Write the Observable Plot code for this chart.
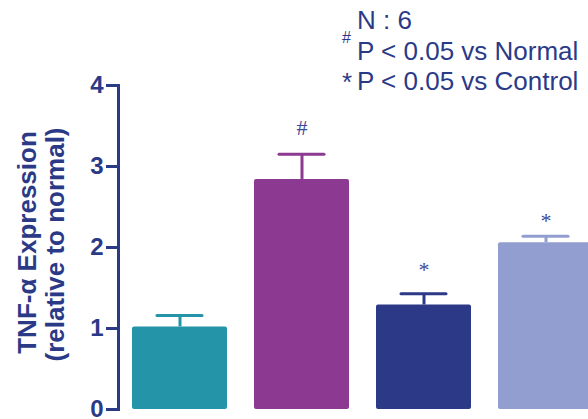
<!DOCTYPE html>
<html>
<head>
<meta charset="utf-8">
<script src="https://cdn.jsdelivr.net/npm/d3@7"></script>
<script src="https://cdn.jsdelivr.net/npm/@observablehq/plot@0.6"></script>
<style>
  html, body { margin: 0; padding: 0; background: #fff; overflow: hidden; }
  #chart { width: 588px; height: 419px; overflow: hidden; }
</style>
</head>
<body>
<div id="chart"></div>
<script>
// ---- data ----
const groups = ["Normal", "Control", "Treatment A", "Treatment B"];
const values = [1.02, 2.84, 1.29, 2.06];
const errors = [0.14, 0.31, 0.14, 0.08];
const colors = ["#2494A9", "#8C3A91", "#2C3986", "#929ECF"];
const markText = ["", "#", "*", "*"];
const markLevel = [null, 3.48, 1.72, 2.33];
const yTicks = [0, 1, 2, 3, 4];
const yTitle = ["TNF-α Expression", "(relative to normal)"];
const legendLines = [
  {sym: "", text: "N : 6"},
  {sym: "#", text: "P < 0.05 vs Normal"},
  {sym: "*", text: "P < 0.05 vs Control"}
];

const navy = "#2B3A87";
const data = groups.map((g, i) => ({group: g, value: values[i], err: errors[i], top: values[i] + errors[i]}));
const marks = groups.map((g, i) => ({group: g, text: markText[i], level: markLevel[i]})).filter(d => d.text);

const plot = Plot.plot({
  width: 588,
  height: 419,
  marginLeft: 118,
  marginTop: 85,
  marginBottom: 10,
  marginRight: 0,
  style: {background: "#fff", overflow: "hidden", color: navy},
  x: {domain: groups, range: [132, 593.7], paddingInner: 0.2228, paddingOuter: 0, axis: null},
  y: {domain: [0, 4], axis: null},
  color: {domain: groups, range: colors},
  marks: [
    Plot.barY(data, {x: "group", y: "value", fill: "group", rx: 2}),
    Plot.ruleX(data, {x: "group", y1: "value", y2: "top", stroke: "group", strokeWidth: 3}),
    Plot.tickY(data, {x: "group", y: "top", stroke: "group", strokeWidth: 3, strokeLinecap: "round", insetLeft: 25, insetRight: 25}),
    Plot.text(marks, {x: "group", y: "level", text: "text", fontFamily: "Liberation Serif", fontSize: 22, fill: "#3D4A9B"}),
    Plot.frame({anchor: "left", stroke: navy, strokeWidth: 3}),
    Plot.axisY({ticks: yTicks, tickFormat: d3.format("d"), tickSize: 12, tickPadding: 3, strokeWidth: 3, fontSize: 24, fontWeight: "bold", fontFamily: "Liberation Sans", color: navy, label: null}),
    Plot.text([yTitle[0]], {text: d => d, frameAnchor: "left", textAnchor: "middle", rotate: -90, dx: -91, dy: -5, fontSize: 26, fontWeight: "bold", fontFamily: "Liberation Sans", fill: navy}),
    Plot.text([yTitle[1]], {text: d => d, frameAnchor: "left", textAnchor: "middle", rotate: -90, dx: -63, dy: -3, fontSize: 26, fontWeight: "bold", fontFamily: "Liberation Sans", fill: navy})
  ]
});

// legend / annotation text block
const svg = d3.select(plot);
const g = svg.append("g").attr("font-family", "Liberation Sans").attr("fill", navy).attr("text-anchor", "start");
const baselines = [29, 60, 90];
legendLines.forEach((l, i) => {
  g.append("text").attr("x", 357).attr("y", baselines[i]).attr("font-size", 26).text(l.text);
  if (l.sym === "#") {
    g.append("text").attr("x", 342).attr("y", baselines[i] - 17).attr("font-size", 16).text(l.sym);
  } else if (l.sym === "*") {
    g.append("text").attr("x", 342).attr("y", baselines[i] + 1).attr("font-size", 26).text(l.sym);
  }
});

document.getElementById("chart").appendChild(plot);
</script>
</body>
</html>
